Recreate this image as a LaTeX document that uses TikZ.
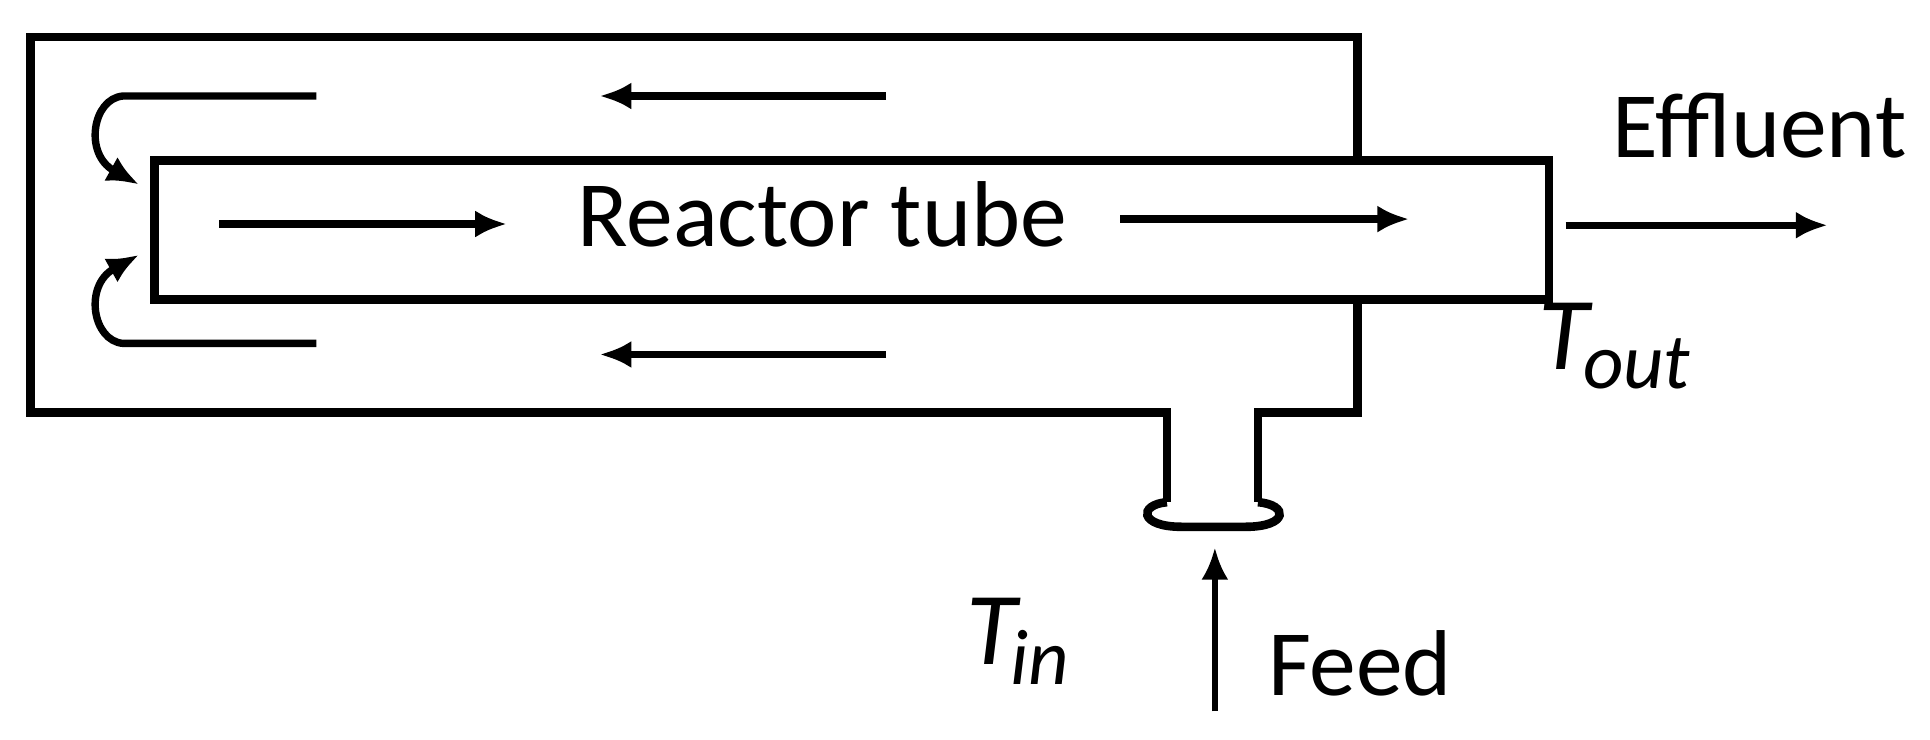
\documentclass[tikz,border=0pt]{standalone}
\usepackage{fontspec}
\setmainfont{Carlito}
\usetikzlibrary{arrows.meta}
\begin{document}
\begin{tikzpicture}[x=1pt,y=-1pt,
  wall/.style={line width=7pt,line join=miter},
  flow/.style={line width=6pt,-{Latex[length=26pt,width=22pt]}},
  lbl/.style={font=\fontsize{76}{76}\selectfont,inner sep=0pt}]
\useasboundingbox (0,0) rectangle (1568,601);
% shell
\draw[wall] (1103,127) -- (1103,30) -- (25,30) -- (25,335) -- (948,335) -- (948,408);
\draw[wall] (1103,240) -- (1103,335) -- (1022,335) -- (1022,408);
% flange
\draw[line width=7pt] (948,408) .. controls (925,410) and (925,428) .. (960,428) -- (1012,428)
  .. controls (1047,428) and (1047,410) .. (1022,408);
% tube
\node[draw,line width=7pt,minimum width=1133pt,minimum height=113pt,anchor=north west,inner sep=0pt] (tube) at (122,127) {};
\node[lbl,anchor=base] (rt) at (668,200) {Reactor tube};
% flow arrows
\coordinate (a1) at (720,78); \coordinate (a2) at (487,78);
\coordinate (b1) at (720,288); \coordinate (b2) at (487,288);
\coordinate (c1) at (178,182); \coordinate (c2) at (412,182);
\coordinate (d1) at (910,178); \coordinate (d2) at (1145,178);
\coordinate (e1) at (1272,183); \coordinate (e2) at (1485,183);
\coordinate (f1) at (987,578); \coordinate (f2) at (987,445);
\draw[flow] (a1) -- (a2);
\draw[flow] (b1) -- (b2);
\draw[flow] (c1) -- (c2);
\draw[flow] (d1) -- (d2);
\draw[flow] (e1) -- (e2);
\draw[flow,line width=4.5pt] (f1) -- (f2);
% return curls
\coordinate (g1) at (257,78); \coordinate (g2) at (113,150);
\coordinate (h1) at (257,279); \coordinate (h2) at (113,207);
\draw[flow] (g1) -- (100,78) .. controls (75,80) and (68,125) .. (g2);
\draw[flow] (h1) -- (100,279) .. controls (75,277) and (68,232) .. (h2);
% labels
\node[lbl,anchor=base west] (eff) at (1310,128) {Effluent};
\node[lbl,anchor=base west] (feed) at (1030,565) {Feed};
\node[lbl,anchor=base west,font=\fontsize{84}{84}\selectfont\itshape] (tout) at (1250,300) {T\kern-5pt\raisebox{-16pt}{\fontsize{64}{64}\selectfont out}};
\node[lbl,anchor=base west,font=\fontsize{84}{84}\selectfont\itshape] (tin) at (785,540) {T\kern-5pt\raisebox{-16pt}{\fontsize{64}{64}\selectfont in}};
\end{tikzpicture}
\end{document}
